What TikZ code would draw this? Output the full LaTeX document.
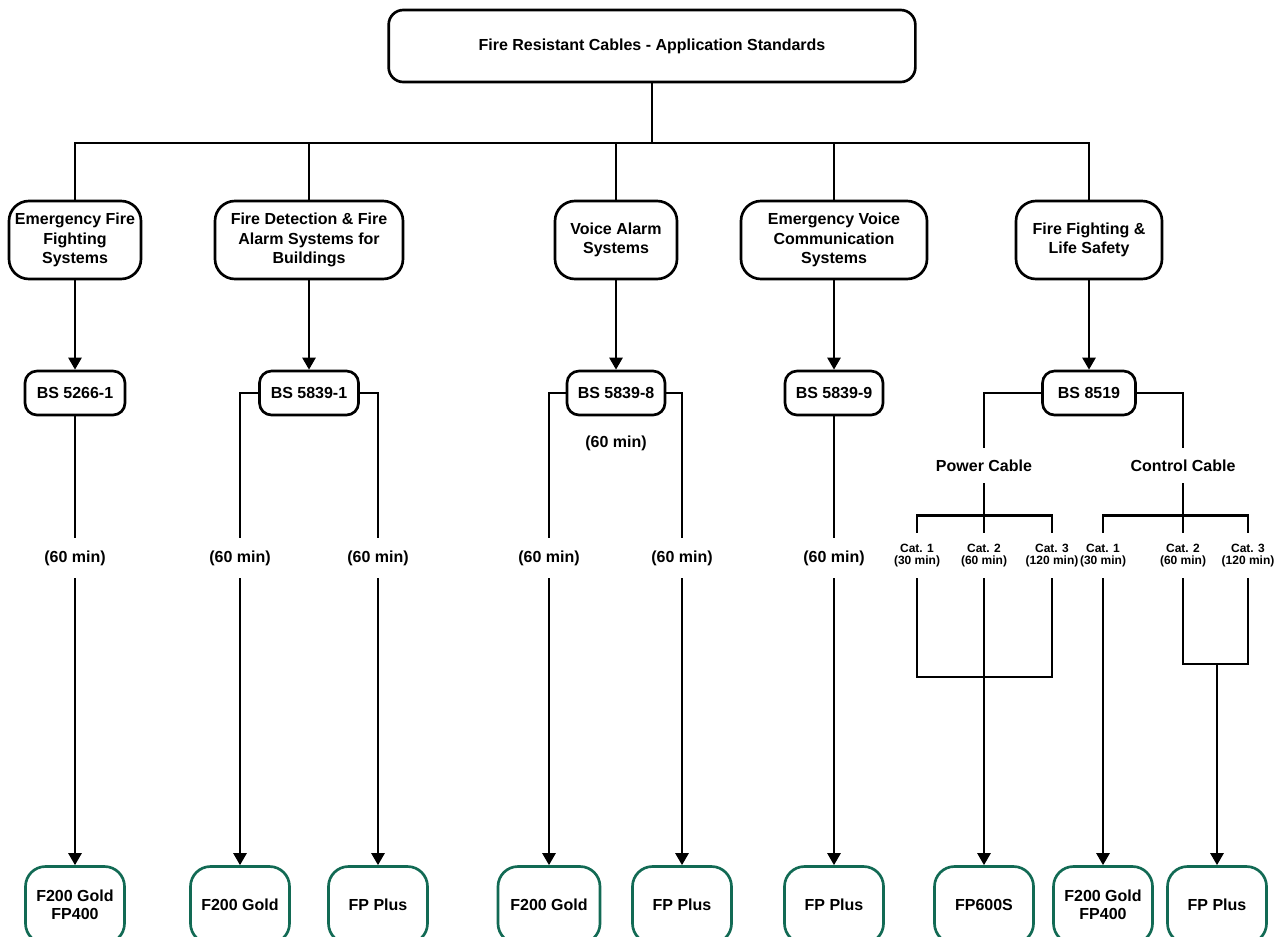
\documentclass[tikz,border=0pt]{standalone}
\usepackage{fontspec}
\setmainfont{Liberation Sans}
\usetikzlibrary{arrows.meta}
\definecolor{prodgreen}{RGB}{18,106,84}
\begin{document}
\begin{tikzpicture}[x=0.75pt,y=-0.75pt,
  every node/.style={font=\bfseries\fontsize{12}{14.6}\selectfont, inner sep=0pt, align=center},
  topbox/.style={draw, line width=2pt, rounded corners=11pt, minimum width=395pt, minimum height=54pt},
  appbox/.style={draw, line width=2pt, rounded corners=15pt, minimum height=58.5pt},
  stdbox/.style={draw, line width=2pt, rounded corners=9pt, minimum height=33pt},
  prodbox/.style={draw=prodgreen, line width=2pt, rounded corners=15pt, minimum height=57.75pt, minimum width=74.25pt,
    font=\bfseries\fontsize{12}{13.5}\selectfont},
  minlabel/.style={minimum height=30pt, minimum width=60pt},
  cablelabel/.style={minimum height=26.25pt},
  catlabel/.style={minimum height=33.75pt, font=\bfseries\fontsize{9}{9.6}\selectfont},
  conn/.style={line width=1.9pt},
  arr/.style={line width=1.9pt, -{Triangle[width=9.75pt,length=9pt]}}
]
\useasboundingbox (0,0) rectangle (1284,936);
\clip (0,0) rectangle (1284,936);

% top
\node[topbox] (top) at (652,46) {Fire Resistant Cables - Application Standards};
\coordinate (bus) at (652,143);

% applications
\node[appbox, minimum width=99pt]   (e1) at (75,240)   {Emergency Fire\\Fighting\\Systems};
\node[appbox, minimum width=141pt]  (e2) at (309,240)  {Fire Detection \& Fire\\Alarm Systems for\\Buildings};
\node[appbox, minimum width=91.5pt] (e3) at (616,240)  {Voice Alarm\\Systems};
\node[appbox, minimum width=139.5pt](e4) at (834,240)  {Emergency Voice\\Communication\\Systems};
\node[appbox, minimum width=109.5pt](e5) at (1089,240) {Fire Fighting \&\\Life Safety};

% standards
\node[stdbox, minimum width=75pt]    (b1) at (75,393)   {BS 5266-1};
\node[stdbox, minimum width=74.25pt] (b2) at (309,393)  {BS 5839-1};
\node[stdbox, minimum width=73.5pt]  (b3) at (616,393)  {BS 5839-8};
\node[stdbox, minimum width=73.5pt]  (b4) at (834,393)  {BS 5839-9};
\node[stdbox, minimum width=69.75pt] (b5) at (1089,393) {BS 8519};

% duration labels
\node[minlabel] (l1)  at (75,558)  {(60 min)};
\node[minlabel] (l2a) at (240,558) {(60 min)};
\node[minlabel] (l2b) at (378,558) {(60 min)};
\node (l3m) at (616,443) {(60 min)};
\node[minlabel] (l3a) at (549,558) {(60 min)};
\node[minlabel] (l3b) at (682,558) {(60 min)};
\node[minlabel] (l4)  at (834,558) {(60 min)};

% BS 8519 branches
\node[cablelabel] (pcl) at (984,465.5)  {Power Cable};
\node[cablelabel] (ccl) at (1183,465.5) {Control Cable};
\node[catlabel] (pc1) at (917,555.5)  {Cat. 1\\(30 min)};
\node[catlabel] (pc2) at (984,555.5)  {Cat. 2\\(60 min)};
\node[catlabel] (pc3) at (1052,555.5) {Cat. 3\\(120 min)};
\node[catlabel] (cc1) at (1103,555.5) {Cat. 1\\(30 min)};
\node[catlabel] (cc2) at (1183,555.5) {Cat. 2\\(60 min)};
\node[catlabel] (cc3) at (1248,555.5) {Cat. 3\\(120 min)};
\coordinate (pj) at (984,677);
\coordinate (cj) at (1217,664);

% products
\node[prodbox] (g1) at (75,905)   {F200 Gold\\FP400};
\node[prodbox] (g2) at (240,905)  {F200 Gold};
\node[prodbox] (g3) at (378,905)  {FP Plus};
\node[prodbox, minimum width=76.5pt] (g4) at (549,905)  {F200 Gold};
\node[prodbox] (g5) at (682,905)  {FP Plus};
\node[prodbox] (g6) at (834,905)  {FP Plus};
\node[prodbox] (g7) at (984,905)  {FP600S};
\node[prodbox] (g8) at (1103,905) {F200 Gold\\FP400};
\node[prodbox] (g9) at (1217,905) {FP Plus};

% top connectors
\draw[conn] (top.south) -- (bus);
\foreach \e in {e1,e2,e3,e4,e5} \draw[conn] (\e.north) |- (bus);

% application to standard
\foreach \i in {1,...,5} \draw[arr] (e\i.south) -- (b\i.north);

% standards to labels
\draw[conn] (b1.south) -- (l1.north);
\draw[conn] (b2.west) -| (l2a.north);
\draw[conn] (b2.east) -| (l2b.north);
\draw[conn] (b3.west) -| (l3a.north);
\draw[conn] (b3.east) -| (l3b.north);
\draw[conn] (b4.south) -- (l4.north);
\draw[conn] (b5.west) -| (pcl.north);
\draw[conn] (b5.east) -| (ccl.north);

% labels to products
\draw[arr] (l1.south)  -- (g1.north);
\draw[arr] (l2a.south) -- (g2.north);
\draw[arr] (l2b.south) -- (g3.north);
\draw[arr] (l3a.south) -- (g4.north);
\draw[arr] (l3b.south) -- (g5.north);
\draw[arr] (l4.south)  -- (g6.north);

% power cable
\draw[conn] (pcl.south) -- (pc2.north);
\draw[conn] (pc1.north) -- ++(0,-17) -| (pc3.north);
\draw[conn] (pc1.south) |- (pj) -| (pc3.south);
\draw[arr] (pc2.south) -- (g7.north);

% control cable
\draw[conn] (ccl.south) -- (cc2.north);
\draw[conn] (cc1.north) -- ++(0,-17) -| (cc3.north);
\draw[arr] (cc1.south) -- (g8.north);
\draw[conn] (cc2.south) |- (cj) -| (cc3.south);
\draw[arr] (cj) -- (g9.north);
\end{tikzpicture}
\end{document}
